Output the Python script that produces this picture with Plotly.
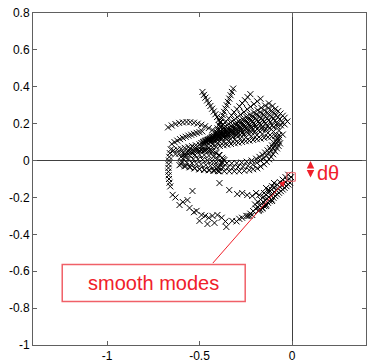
import plotly.graph_objects as go

# ---------------- data ----------------
# fan of rays (upper right)
fan_x = [
    -0.484,-0.476,-0.468,-0.459,-0.450,-0.441,-0.432,-0.423,-0.414,-0.405,-0.396,-0.387,-0.378,-0.370,
    -0.318,-0.325,-0.332,-0.339,-0.346,-0.353,-0.360,-0.367,-0.374,-0.381,-0.388,-0.395,-0.402,-0.409,
    -0.225,-0.240,-0.254,-0.269,-0.284,-0.298,-0.313,-0.327,-0.342,-0.357,-0.371,-0.386,-0.400,-0.415,-0.430,
    -0.170,-0.188,-0.206,-0.224,-0.242,-0.260,-0.278,-0.296,-0.314,-0.332,-0.350,-0.368,-0.386,-0.404,-0.422,-0.440,
    -0.125,-0.145,-0.166,-0.186,-0.206,-0.227,-0.247,-0.267,-0.288,-0.308,-0.328,-0.348,-0.369,-0.389,-0.409,-0.430,-0.450,
    -0.105,-0.127,-0.149,-0.171,-0.193,-0.214,-0.236,-0.258,-0.280,-0.302,-0.324,-0.346,-0.368,-0.389,-0.411,-0.433,-0.455,
    -0.090,-0.112,-0.134,-0.155,-0.177,-0.199,-0.221,-0.242,-0.264,-0.286,-0.308,-0.329,-0.351,-0.373,-0.395,-0.416,-0.438,-0.460,
    -0.075,-0.098,-0.121,-0.144,-0.167,-0.190,-0.213,-0.236,-0.259,-0.281,-0.304,-0.327,-0.350,-0.373,-0.396,-0.419,-0.442,-0.465,
    -0.062,-0.086,-0.110,-0.134,-0.158,-0.182,-0.206,-0.230,-0.254,-0.278,-0.302,-0.326,-0.350,-0.374,-0.398,-0.422,-0.446,-0.470,
    -0.050,-0.075,-0.100,-0.125,-0.150,-0.175,-0.200,-0.225,-0.250,-0.275,-0.300,-0.325,-0.350,-0.375,-0.400,-0.425,-0.450,-0.475,
    -0.040,-0.066,-0.092,-0.118,-0.144,-0.169,-0.195,-0.221,-0.247,-0.273,-0.299,-0.325,-0.351,-0.377,-0.402,-0.428,-0.454,-0.480,
    -0.025,-0.052,-0.080,-0.107,-0.134,-0.162,-0.189,-0.216,-0.244,-0.271,-0.298,-0.326,-0.353,-0.380,-0.408,-0.435,-0.462,-0.490,
]
fan_y = [
    0.372,0.356,0.341,0.326,0.311,0.296,0.281,0.266,0.251,0.236,0.221,0.206,0.190,0.175,
    0.390,0.372,0.354,0.336,0.318,0.300,0.282,0.264,0.246,0.228,0.210,0.192,0.174,0.156,
    0.360,0.344,0.327,0.311,0.294,0.278,0.262,0.245,0.229,0.212,0.196,0.180,0.163,0.147,0.130,
    0.335,0.321,0.306,0.292,0.278,0.263,0.249,0.235,0.220,0.206,0.192,0.177,0.163,0.149,0.134,0.120,
    0.310,0.298,0.286,0.273,0.261,0.249,0.237,0.225,0.213,0.200,0.188,0.176,0.164,0.152,0.139,0.127,0.115,
    0.296,0.285,0.273,0.262,0.250,0.239,0.227,0.216,0.204,0.193,0.181,0.170,0.158,0.147,0.135,0.124,0.112,
    0.280,0.270,0.260,0.250,0.240,0.230,0.220,0.210,0.200,0.190,0.180,0.170,0.160,0.150,0.140,0.130,0.120,0.110,
    0.268,0.259,0.249,0.240,0.230,0.221,0.212,0.202,0.193,0.183,0.174,0.165,0.155,0.146,0.136,0.127,0.117,0.108,
    0.255,0.246,0.237,0.229,0.220,0.211,0.202,0.193,0.184,0.176,0.167,0.158,0.149,0.140,0.131,0.123,0.114,0.105,
    0.243,0.235,0.226,0.218,0.210,0.201,0.193,0.185,0.176,0.168,0.160,0.151,0.143,0.135,0.127,0.118,0.110,0.102,
    0.232,0.224,0.216,0.209,0.201,0.193,0.185,0.178,0.170,0.162,0.154,0.147,0.139,0.131,0.123,0.116,0.108,0.100,
    0.212,0.205,0.198,0.191,0.184,0.178,0.171,0.164,0.157,0.150,0.143,0.136,0.129,0.122,0.116,0.109,0.102,0.095,
]

# upper lip band
lip_x = [
    -0.64,-0.62,-0.60,-0.58,-0.56,-0.54,-0.52,-0.50,-0.48,-0.46,-0.44,-0.42,-0.40,-0.38,-0.36,-0.34,
    -0.32,-0.30,-0.28,-0.26,-0.24,-0.22,-0.20,-0.18,-0.16,-0.14,-0.12,-0.10,-0.08,-0.06,-0.04,
    -0.63,-0.61,-0.59,-0.57,-0.55,-0.53,-0.51,-0.49,-0.47,-0.45,-0.43,-0.41,-0.39,-0.37,-0.35,
    -0.33,-0.31,-0.29,-0.27,-0.25,-0.23,-0.21,-0.19,-0.17,-0.15,-0.13,-0.11,-0.09,-0.07,-0.05,
    -0.55,-0.52,-0.49,-0.46,-0.43,-0.40,-0.37,-0.34,-0.31,-0.28,-0.25,-0.22,-0.19,-0.16,-0.13,-0.10,-0.07,
]
lip_y = [
    0.055,0.060,0.064,0.069,0.074,0.078,0.083,0.088,0.092,0.097,0.102,0.106,0.111,0.116,0.121,0.125,
    0.130,0.135,0.139,0.144,0.149,0.153,0.158,0.163,0.167,0.172,0.177,0.181,0.186,0.191,0.196,
    0.035,0.038,0.042,0.046,0.049,0.053,0.057,0.060,0.064,0.068,0.072,0.075,0.079,0.083,0.086,
    0.090,0.094,0.097,0.101,0.105,0.108,0.112,0.116,0.119,0.123,0.127,0.130,0.134,0.138,0.141,
    0.063,0.069,0.075,0.081,0.088,0.094,0.100,0.107,0.113,0.119,0.125,0.132,0.138,0.144,0.150,0.157,0.163,
]

# lower curved band with hatched wedge
low_x = [
    -0.608,-0.581,-0.554,-0.527,-0.500,-0.473,-0.446,-0.419,-0.392,-0.366,-0.339,-0.312,-0.285,-0.258,
    -0.231,-0.210,-0.188,-0.170,-0.151,-0.137,-0.124,-0.113,-0.102,-0.091,-0.081,-0.073,-0.065,
    -0.400,-0.373,-0.346,-0.319,-0.292,-0.265,-0.238,-0.212,-0.190,-0.170,-0.153,-0.139,-0.126,-0.114,
    -0.103,-0.093,-0.083,-0.074,
    -0.380,-0.353,-0.326,-0.299,-0.272,-0.245,-0.218,-0.194,-0.176,-0.160,-0.145,-0.132,-0.120,-0.108,
    -0.097,-0.086,-0.077,-0.070,
    -0.600,-0.594,-0.588,-0.581,-0.575,
    -0.575,-0.568,-0.560,-0.553,-0.545,
    -0.550,-0.541,-0.533,-0.524,-0.515,
    -0.525,-0.516,-0.508,-0.499,-0.490,
    -0.500,-0.491,-0.483,-0.474,-0.465,
    -0.475,-0.466,-0.458,-0.449,-0.440,
    -0.450,-0.441,-0.433,-0.424,-0.415,
    -0.425,-0.418,-0.410,-0.403,-0.395,
    -0.400,-0.393,-0.386,-0.379,-0.372,
    -0.600,-0.580,-0.555,-0.527,-0.500,-0.473,-0.450,-0.430,-0.410,-0.392,-0.378,-0.366,
]
low_y = [
    -0.025,-0.031,-0.036,-0.042,-0.047,-0.050,-0.052,-0.055,-0.058,-0.058,-0.058,-0.058,-0.058,-0.055,
    -0.052,-0.047,-0.042,-0.032,-0.020,-0.007,0.007,0.020,0.034,0.050,0.066,0.080,0.093,
    -0.038,-0.037,-0.037,-0.037,-0.035,-0.033,-0.028,-0.022,-0.012,0.000,0.013,0.027,0.040,0.054,
    0.068,0.082,0.096,0.108,
    -0.016,-0.015,-0.015,-0.014,-0.011,-0.006,0.000,0.010,0.020,0.031,0.043,0.055,0.068,0.082,
    0.096,0.109,0.119,0.125,
    -0.020,-0.006,0.008,0.021,0.035,
    -0.030,-0.011,0.008,0.026,0.045,
    -0.036,-0.014,0.008,0.030,0.052,
    -0.042,-0.018,0.007,0.031,0.055,
    -0.047,-0.021,0.005,0.030,0.056,
    -0.050,-0.024,0.001,0.027,0.052,
    -0.052,-0.028,-0.004,0.021,0.045,
    -0.055,-0.034,-0.013,0.009,0.030,
    -0.057,-0.041,-0.025,-0.008,0.008,
    0.020,0.034,0.044,0.050,0.054,0.055,0.053,0.050,0.040,0.029,0.015,0.002,
]

# outer sparse arc (top arc, inner arc, left chain, bottom ring, middle chain)
arc_x = [
    -0.670,-0.650,-0.630,-0.610,-0.590,-0.570,-0.550,-0.530,-0.510,-0.490,-0.470,-0.450,-0.430,
    -0.650,-0.635,-0.620,-0.605,-0.590,-0.575,-0.560,-0.545,-0.530,-0.515,-0.500,-0.485,
    -0.655,-0.660,-0.663,-0.665,-0.667,-0.668,-0.668,-0.667,-0.665,-0.662,-0.658,
    -0.645,-0.538,-0.608,-0.565,-0.554,-0.516,-0.489,-0.500,-0.457,-0.419,-0.430,-0.403,-0.355,
    -0.323,-0.285,-0.247,-0.215,-0.177,-0.140,-0.108,
    -0.630,-0.590,-0.530,-0.470,-0.450,-0.380,-0.360,-0.300,-0.270,-0.230,-0.160,
    -0.392,-0.339,-0.296,-0.269,-0.242,-0.215,-0.194,-0.177,-0.151,-0.140,-0.124,-0.108,-0.097,
]
arc_y = [
    0.180,0.190,0.198,0.204,0.207,0.209,0.208,0.205,0.200,0.194,0.186,0.176,0.166,
    0.090,0.100,0.108,0.116,0.123,0.129,0.135,0.140,0.145,0.150,0.154,0.158,
    0.060,0.040,0.020,0.000,-0.020,-0.040,-0.060,-0.080,-0.100,-0.120,-0.140,
    -0.186,-0.165,-0.241,-0.214,-0.257,-0.273,-0.295,-0.327,-0.344,-0.338,-0.300,-0.295,-0.360,
    -0.327,-0.316,-0.300,-0.295,-0.268,-0.246,-0.219,
    -0.200,-0.225,-0.280,-0.300,-0.310,-0.310,-0.330,-0.330,-0.310,-0.300,-0.260,
    -0.122,-0.160,-0.182,-0.176,-0.187,-0.192,-0.176,-0.187,-0.176,-0.149,-0.160,-0.139,-0.122,
]

# smooth modes cluster
smooth_x = [
    -0.005,-0.015,-0.025,-0.035,-0.045,-0.055,-0.065,-0.075,-0.085,-0.095,-0.105,-0.115,
    -0.125,-0.135,-0.145,-0.155,-0.165,-0.175,-0.185,-0.195,-0.210,-0.225,-0.240,
    -0.010,-0.020,-0.030,-0.040,-0.050,-0.060,-0.070,-0.080,-0.090,-0.100,-0.110,-0.120,
    -0.130,-0.140,-0.150,-0.160,-0.170,-0.180,
    -0.020,-0.035,-0.050,-0.065,-0.080,-0.095,-0.110,-0.125,-0.140,-0.155,-0.170,-0.185,-0.200,
]
smooth_y = [
    -0.090,-0.099,-0.108,-0.117,-0.126,-0.135,-0.144,-0.153,-0.162,-0.171,-0.180,-0.189,
    -0.198,-0.207,-0.216,-0.225,-0.234,-0.243,-0.252,-0.261,-0.274,-0.288,-0.301,
    -0.121,-0.130,-0.139,-0.148,-0.157,-0.166,-0.175,-0.184,-0.193,-0.202,-0.211,-0.220,
    -0.229,-0.238,-0.247,-0.256,-0.265,-0.274,
    -0.077,-0.090,-0.104,-0.117,-0.131,-0.144,-0.158,-0.171,-0.185,-0.198,-0.211,-0.225,-0.238,
]

x_ticks = [-1, -0.5, 0]
x_tick_labels = ["-1", "-0.5", "0"]
y_ticks = [-1, -0.8, -0.6, -0.4, -0.2, 0, 0.2, 0.4, 0.6, 0.8]
y_tick_labels = ["-1", "-0.8", "-0.6", "-0.4", "-0.2", "0", "0.2", "0.4", "0.6", "0.8"]

# ---------------- figure ----------------
marker = dict(symbol="x-thin", size=6, color="black", line=dict(width=1, color="black"))

fig = go.Figure()
for xs, ys in [(fan_x, fan_y), (lip_x, lip_y), (low_x, low_y), (arc_x, arc_y), (smooth_x, smooth_y)]:
    fig.add_trace(go.Scatter(x=xs, y=ys, mode="markers", marker=marker,
                             showlegend=False, hoverinfo="skip"))

red = "#f0202a"
light_red = "#f06068"

axis_common = dict(
    showgrid=False, zeroline=True, zerolinecolor="#404040", zerolinewidth=1,
    showline=True, linecolor="#606060", linewidth=1, mirror="ticks",
    ticks="inside", ticklen=4, tickcolor="#606060",
    tickfont=dict(family="Liberation Sans, Arial", size=12, color="black"),
)
fig.update_xaxes(range=[-1.4, 0.4], tickvals=x_ticks, ticktext=x_tick_labels, **axis_common)
fig.update_yaxes(range=[-1, 0.8], tickvals=y_ticks, ticktext=y_tick_labels, **axis_common)

# red square around smooth-mode end
fig.add_shape(type="rect", x0=-0.028, x1=0.018, y0=-0.112, y1=-0.066,
              xref="x", yref="y", line=dict(color=light_red, width=1))
# label box
fig.add_shape(type="rect", x0=-1.242, x1=-0.253, y0=-0.764, y1=-0.564,
              xref="x", yref="y", line=dict(color=light_red, width=1.5))
fig.add_annotation(x=-0.747, y=-0.664, xref="x", yref="y", text="smooth modes",
                   showarrow=False, font=dict(family="Liberation Sans, Arial", size=20, color=red))
# arrow from box to the square
fig.add_annotation(x=-0.036, y=-0.108, ax=-0.435, ay=-0.564, xref="x", yref="y",
                   axref="x", ayref="y", text="", showarrow=True, arrowhead=2,
                   arrowsize=1.2, arrowwidth=1, arrowcolor=red)
# dθ double arrow
fig.add_annotation(x=0.1, y=-0.002, ax=0.1, ay=-0.045, xref="x", yref="y",
                   axref="x", ayref="y", text="", showarrow=True, arrowhead=2,
                   arrowsize=1, arrowwidth=1.5, arrowcolor=red)
fig.add_annotation(x=0.1, y=-0.092, ax=0.1, ay=-0.045, xref="x", yref="y",
                   axref="x", ayref="y", text="", showarrow=True, arrowhead=2,
                   arrowsize=1, arrowwidth=1.5, arrowcolor=red)
fig.add_annotation(x=0.196, y=-0.069, xref="x", yref="y", text="dθ", showarrow=False,
                   font=dict(family="Liberation Sans, Arial", size=20, color=red))

fig.update_layout(
    width=368, height=364,
    margin=dict(l=33, r=1, t=13, b=16),
    paper_bgcolor="white", plot_bgcolor="white",
)

fig.write_html("out.html", config={"displayModeBar": False},
               post_script="document.body.style.margin='0';document.body.style.padding='0';")
